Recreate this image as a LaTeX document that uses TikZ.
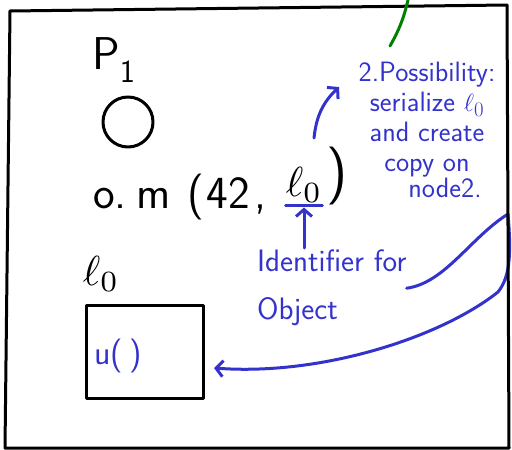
\documentclass[tikz,border=0pt]{standalone}
\usepackage{amsmath}
\usepackage{xcolor}
\usepackage{tikz}
\usetikzlibrary{arrows.meta,positioning,calc}

\definecolor{penblue}{RGB}{51,51,204}
\definecolor{pengreen}{RGB}{0,128,0}
\newcommand{\bigloc}[1]{\scalebox{#1}{\normalsize$\ell_0$}}

\begin{document}
\begin{tikzpicture}[
    x=1pt, y=-1pt,
    ink/.style={line width=3pt, line cap=round, line join=round},
    blk/.style={font=\sffamily\fontsize{46}{50}\selectfont, inner sep=0pt},
    note/.style={text=penblue, font=\sffamily\fontsize{28}{30}\selectfont, inner sep=0pt},
    arrow/.style={ink, penblue, -{Straight Barb[length=7pt,width=16pt,line width=3pt]}}
]
\useasboundingbox (0,0) rectangle (512,450);

% Process and object
\node[blk] (p1) at (114,60) {P\textsubscript{1}};
\node[circle, draw, ink, minimum size=50pt, inner sep=0pt] (proc) at (128,122) {};

% Method call
\node[blk, anchor=base west] (call) at (93,208) {o.\hspace{10pt}m\hspace{16pt}(\hspace{3pt}42\hspace{4pt},};
\node[blk, anchor=base] (callarg) at (304,196) {\bigloc{4.2}};
\node[blk, font=\sffamily\fontsize{58}{58}\selectfont] (callend) at (337,176) {)};
\draw[ink, penblue] ([yshift=-3pt]callarg.south west) -- ([yshift=-3pt]callarg.south east);

% Remote object
\node[blk] (l0) at (101,274) {\bigloc{4.2}};
\node[draw, ink, minimum width=117pt, minimum height=93pt] (lobox) at (145,352) {};
\node[note, font=\sffamily\fontsize{34}{34}\selectfont] (ufn) at (118,356) {u(\,)};

% Notes
\node[note, align=left, anchor=north west, font=\sffamily\fontsize{31}{48}\selectfont] (ident) at (257,250) {Identifier for\\Object};
\node[note, align=center, anchor=north] (poss) at (427,62) {2.Possibility:\\serialize $\ell_0$\\and create\\copy on\\[-4pt]\hspace{36pt}node2.};
\coordinate (l0up) at (314,138);
\coordinate (possin) at (339,87);

% Arrows
\draw[arrow] (ident.north -| callarg) ++(0,-2) -- ([yshift=-5pt]callarg.south);
\draw[arrow] (l0up) to[bend left=20] (possin);
\draw[arrow] (ident.east) .. controls (445,283) and (470,238) .. (508,214)
    .. controls (511,250) and (511,276) .. (498,292)
    .. controls (440,338) and (320,376) .. ([xshift=9pt,yshift=-16pt]lobox.east);

% Frame
\draw[ink] (10,11) -- (507,5) -- (509,448) -- (5,448) -- cycle;
\draw[ink, pengreen] (408,0) to[bend left=8] (390,46);

\end{tikzpicture}
\end{document}
